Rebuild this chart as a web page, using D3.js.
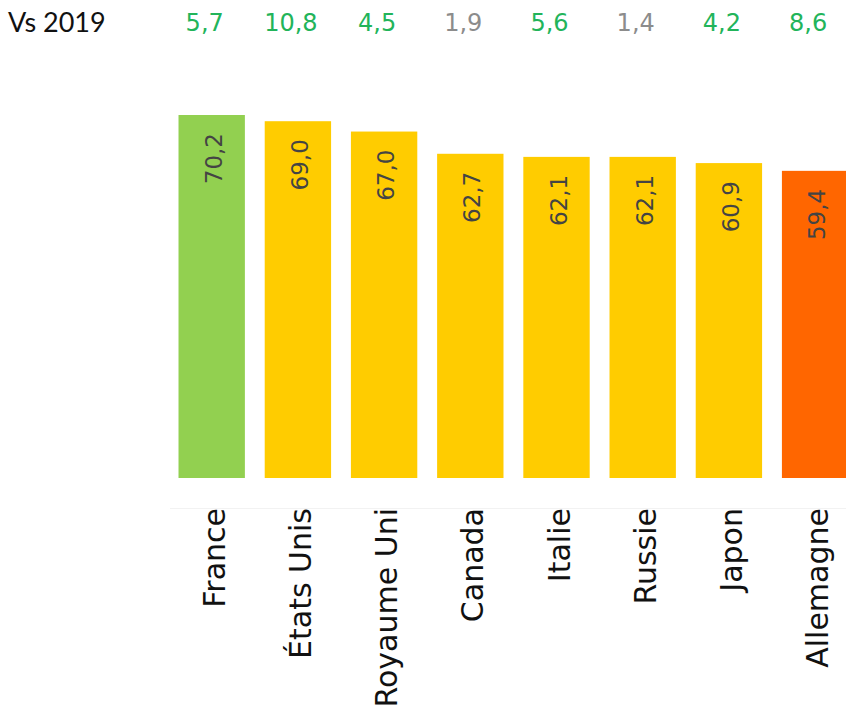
<!DOCTYPE html>
<html>
<head>
<meta charset="utf-8">
<script src="https://cdn.jsdelivr.net/npm/d3@7"></script>
<style>
  html, body { margin: 0; padding: 0; background: #fff; }
  svg { display: block; }
</style>
</head>
<body>
<div id="vis"></div>
<script>
// Data
const countries = ["France", "États Unis", "Royaume Uni", "Canada", "Italie", "Russie", "Japon", "Allemagne"];
const scores = [70.2, 69.0, 67.0, 62.7, 62.1, 62.1, 60.9, 59.4];
const vs2019 = [5.7, 10.8, 4.5, 1.9, 5.6, 1.4, 4.2, 8.6];
const levels = ["high", "mid", "mid", "mid", "mid", "mid", "mid", "low"];

const width = 846;
const height = 713;
const baseY = 478;
const topY = 115;

const fmt = v => v.toFixed(1).replace(".", ",");

const svg = d3.select("#vis")
  .append("svg")
  .attr("width", width)
  .attr("height", height);

const x = d3.scaleBand()
  .domain(countries)
  .range([168.6, 858.2])
  .paddingInner(0.23)
  .paddingOuter(0.115);

const y = d3.scaleLinear()
  .domain([0, d3.max(scores)])
  .range([baseY, topY]);

const barColor = d3.scaleOrdinal()
  .domain(["high", "mid", "low"])
  .range(["#92d050", "#ffcc00", "#ff6600"]);

const rows = countries.map((c, i) => ({ country: c, score: scores[i], diff: vs2019[i], level: levels[i] }));

// Header row
svg.append("text")
  .attr("x", 8)
  .attr("y", 32)
  .attr("font-family", "Lato, 'Open Sans', sans-serif")
  .attr("font-size", "27px")
  .attr("fill", "#111")
  .text("Vs 2019");

svg.selectAll("text.diff")
  .data(rows)
  .enter()
  .append("text")
  .attr("class", "diff")
  .attr("x", d => x(d.country) + x.bandwidth() / 2 - 7)
  .attr("y", 31)
  .attr("text-anchor", "middle")
  .attr("font-family", "'DejaVu Sans', sans-serif")
  .attr("font-size", "24px")
  .attr("fill", d => d.diff > 2 ? "#22b45a" : "#8c8c8c")
  .text(d => fmt(d.diff));

// faint separator above labels
svg.append("line")
  .attr("x1", 170)
  .attr("x2", width)
  .attr("y1", 508.5)
  .attr("y2", 508.5)
  .attr("stroke", "#f2f2f2")
  .attr("stroke-width", 1);

// Bars
svg.selectAll("rect.bar")
  .data(rows)
  .enter()
  .append("rect")
  .attr("class", "bar")
  .attr("x", d => x(d.country))
  .attr("y", d => y(d.score))
  .attr("width", x.bandwidth())
  .attr("height", d => baseY - y(d.score))
  .attr("fill", d => barColor(d.level));

// Value labels inside bars
svg.selectAll("text.val")
  .data(rows)
  .enter()
  .append("text")
  .attr("class", "val")
  .attr("transform", d => `translate(${x(d.country) + x.bandwidth() / 2 + 10},${y(d.score) + 18}) rotate(-90)`)
  .attr("text-anchor", "end")
  .attr("font-family", "'DejaVu Sans', sans-serif")
  .attr("font-size", "23px")
  .attr("fill", "#444")
  .text(d => fmt(d.score));

// Category labels
svg.selectAll("text.cat")
  .data(rows)
  .enter()
  .append("text")
  .attr("class", "cat")
  .attr("transform", d => `translate(${x(d.country) + x.bandwidth() / 2 + 13},508) rotate(-90)`)
  .attr("text-anchor", "end")
  .attr("font-family", "'DejaVu Sans', sans-serif")
  .attr("font-size", "30px")
  .attr("fill", "#111")
  .text(d => d.country);
</script>
</body>
</html>
